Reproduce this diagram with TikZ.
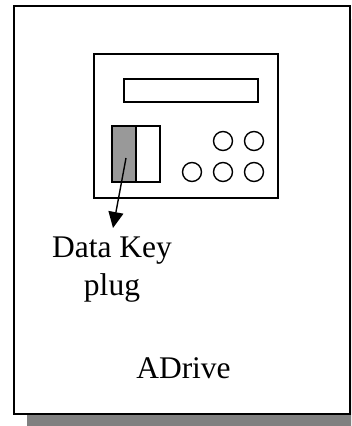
\documentclass[tikz,border=0pt]{standalone}
\usepackage{fontspec}
\setmainfont{Liberation Serif}
\usetikzlibrary{arrows.meta}
\begin{document}
\begin{tikzpicture}[x=1pt,y=-1pt,
  thick line/.style={line width=1.8pt},
  thin line/.style={line width=1.4pt},
  knob/.style={circle,draw,line width=1.4pt,minimum size=19pt,inner sep=0pt},
  lbl/.style={font=\fontsize{31.5}{38}\selectfont,inner sep=0pt,anchor=base}]
\useasboundingbox (0,0) rectangle (351,426);
\clip (0,0) rectangle (351,426);
% shadow
\fill[fill={rgb,255:red,128;green,128;blue,128}] (27,19) rectangle (365,430);
% outer box
\node[draw,thick line,fill=white,inner sep=0pt,minimum width=336pt,minimum height=408pt] (outer) at (182,210) {};
% device
\node[draw,thick line,inner sep=0pt,minimum width=184pt,minimum height=144pt] (device) at (186,126) {};
% display
\node[draw,thin line,inner sep=0pt,minimum width=134pt,minimum height=23pt] (display) at (191,90.5) {};
% plug
\node[draw,thin line,fill={rgb,255:red,153;green,153;blue,153},inner sep=0pt,minimum width=24pt,minimum height=56pt] (plugL) at (124,154) {};
\node[draw,thin line,inner sep=0pt,minimum width=24pt,minimum height=56pt] (plugR) at (148,154) {};
% knobs
\node[knob] (k1) at (223,141) {};
\node[knob] (k2) at (254,141) {};
\node[knob] (k3) at (192,172) {};
\node[knob] (k4) at (223,172) {};
\node[knob] (k5) at (254,172) {};
% labels
\node[lbl] (dk) at (112,257) {Data Key};
\node[lbl] (pl) at (112,295) {plug};
\node[lbl] (adrive) at (183.5,378) {ADrive};
% arrow
\coordinate (from) at (126,158);
\coordinate (tip) at (113,228);
\draw[line width=1.4pt,-{Triangle[length=16pt,width=15pt]}] (from) -- (tip);
\end{tikzpicture}
\end{document}
